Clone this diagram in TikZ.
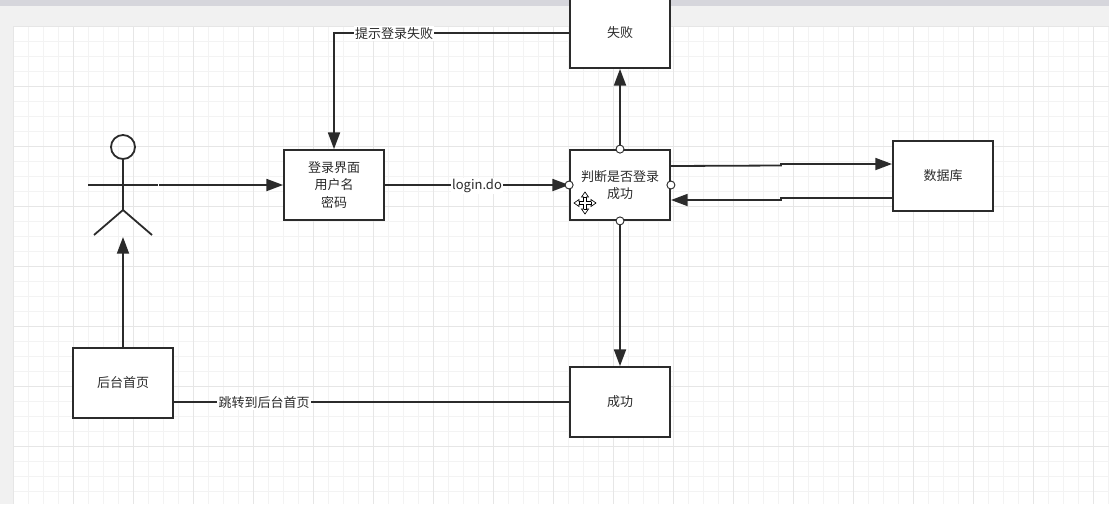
\documentclass[tikz,border=0pt]{standalone}
\usepackage{fontspec}
\setmainfont{Noto Sans CJK SC}
\usetikzlibrary{arrows.meta,calc}
\definecolor{ink}{HTML}{2B2B2B}
\definecolor{gminor}{HTML}{F3F3F3}
\definecolor{gmajor}{HTML}{E6E6E6}
\definecolor{panel}{HTML}{F1F1F1}
\definecolor{topbar}{HTML}{D6D6DC}
\newcommand{\lowr}[1]{\raisebox{-0.75pt}{#1}}
\tikzset{
  x=0.75pt,y=-0.75pt,
  boxn/.style={draw=ink,line width=1.35pt,fill=white,minimum width=75pt,minimum height=52.5pt,inner sep=0pt,align=center,text=ink,font=\fontsize{9.75pt}{12.8pt}\selectfont},
  conn/.style={draw=ink,line width=1.35pt},
  arr/.style={conn,-{Triangle[length=12.5pt,width=9pt]}},
  lab/.style={fill=white,inner sep=1pt,text=ink,font=\fontsize{9.75pt}{12pt}\selectfont},
  handle/.style={circle,draw=ink,line width=0.7pt,fill=white,minimum size=6pt,inner sep=0pt},
  actorline/.style={draw=ink,line width=1.35pt}
}
\begin{document}
\begin{tikzpicture}
\useasboundingbox (0,0) rectangle (1109,504);
\fill[panel] (0,0) rectangle (1109,504);
\fill[topbar] (0,0) rectangle (1109,6);
\fill[white] (13,26) rectangle (1109,504);
\foreach \i in {0,...,73} {\draw[gminor,line width=0.75pt] ({13+15*\i},26) -- ({13+15*\i},504);}
\foreach \j in {0,...,32} {\draw[gminor,line width=0.75pt] (13,{26+15*\j}) -- (1109,{26+15*\j});}
\foreach \i in {0,...,18} {\draw[gmajor,line width=0.75pt] ({13+60*\i},26) -- ({13+60*\i},504);}
\foreach \j in {0,...,8} {\draw[gmajor,line width=0.75pt] (13,{26+60*\j}) -- (1109,{26+60*\j});}

% boxes
\node[boxn] (login) at (334,185) {\lowr{登录界面}\\\lowr{用户名}\\\lowr{密码}};
\node[boxn] (judge) at (620,185) {\lowr{判断是否登录}\\\lowr{成功}};
\node[boxn] (fail) at (620,33) {\lowr{失败}};
\node[boxn] (ok) at (620,402) {\lowr{成功}};
\node[boxn] (db) at (943,176) {\lowr{数据库}};
\node[boxn] (home) at (123,383) {\lowr{后台首页}};

% actor
\node[circle,draw=ink,line width=1.35pt,minimum size=18pt,inner sep=0pt] (head) at (123,147) {};
\coordinate (hip) at (123,210);
\coordinate (armL) at (88,185);
\coordinate (armR) at (158,185);
\coordinate (legL) at (94,235);
\coordinate (legR) at (152,235);
\coordinate (armGap) at (159,185);
\coordinate (actorFoot) at (123,237);
\draw[actorline] (head.south) -- (hip);
\draw[actorline] (armL) -- (armR);
\draw[actorline] (legL) -- (hip) -- (legR);

% connectors
\draw[arr] (armGap) -- (login.west |- armGap);
\draw[arr] (home.north -| actorFoot) -- (actorFoot);
\draw[arr] (login.east) -- (judge.west);
\node[lab] (ldo) at (477,186) {login.do};
\draw[arr] (fail.west) -- (fail.west -| login.north) -- (login.north);
\node[lab] (ftip) at (394,33.5) {提示登录失败};
\draw[arr] (judge.north) -- (fail.south);
\draw[arr] (judge.south) -- (ok.north);
\draw[conn] (ok.west) -- (ok.west -| home.east);
\node[lab] (jump) at (264,402.5) {跳转到后台首页};
\coordinate (jr1) at ($(judge.east)+(0,-19)$);
\coordinate (jm1) at (781,165.5);
\coordinate (jm2) at (781,164);
\coordinate (jd1) at (892,164);
\draw[arr] (jr1) -- (jm1) -- (jm2) -- (jd1);
\coordinate (dl1) at (893,198);
\coordinate (dm1) at (781,198);
\coordinate (dm2) at (781,200);
\coordinate (dj1) at (671,200);
\draw[arr] (dl1) -- (dm1) -- (dm2) -- (dj1);

% selection handles
\node[handle] (h1) at (judge.north) {};
\node[handle] (h2) at (judge.west) {};
\node[handle] (h3) at (judge.east) {};
\node[handle] (h4) at (judge.south) {};

% move cursor
\begin{scope}[shift={(585,203)}]
\path[draw=black,line width=0.5pt,fill=white]
 (-1.5,-1.5) -- (-1.5,-6) -- (-3.5,-6) -- (0,-11) -- (3.5,-6) -- (1.5,-6) -- (1.5,-1.5)
 -- (6,-1.5) -- (6,-3.5) -- (11,0) -- (6,3.5) -- (6,1.5) -- (1.5,1.5)
 -- (1.5,6) -- (3.5,6) -- (0,11) -- (-3.5,6) -- (-1.5,6) -- (-1.5,1.5)
 -- (-6,1.5) -- (-6,3.5) -- (-11,0) -- (-6,-3.5) -- (-6,-1.5) -- cycle;
\draw[black,line width=0.5pt] (-6,-1.5) -- (-6,1.5) (6,-1.5) -- (6,1.5) (-1.5,-6) -- (1.5,-6) (-1.5,6) -- (1.5,6);
\end{scope}
\end{tikzpicture}
\end{document}
